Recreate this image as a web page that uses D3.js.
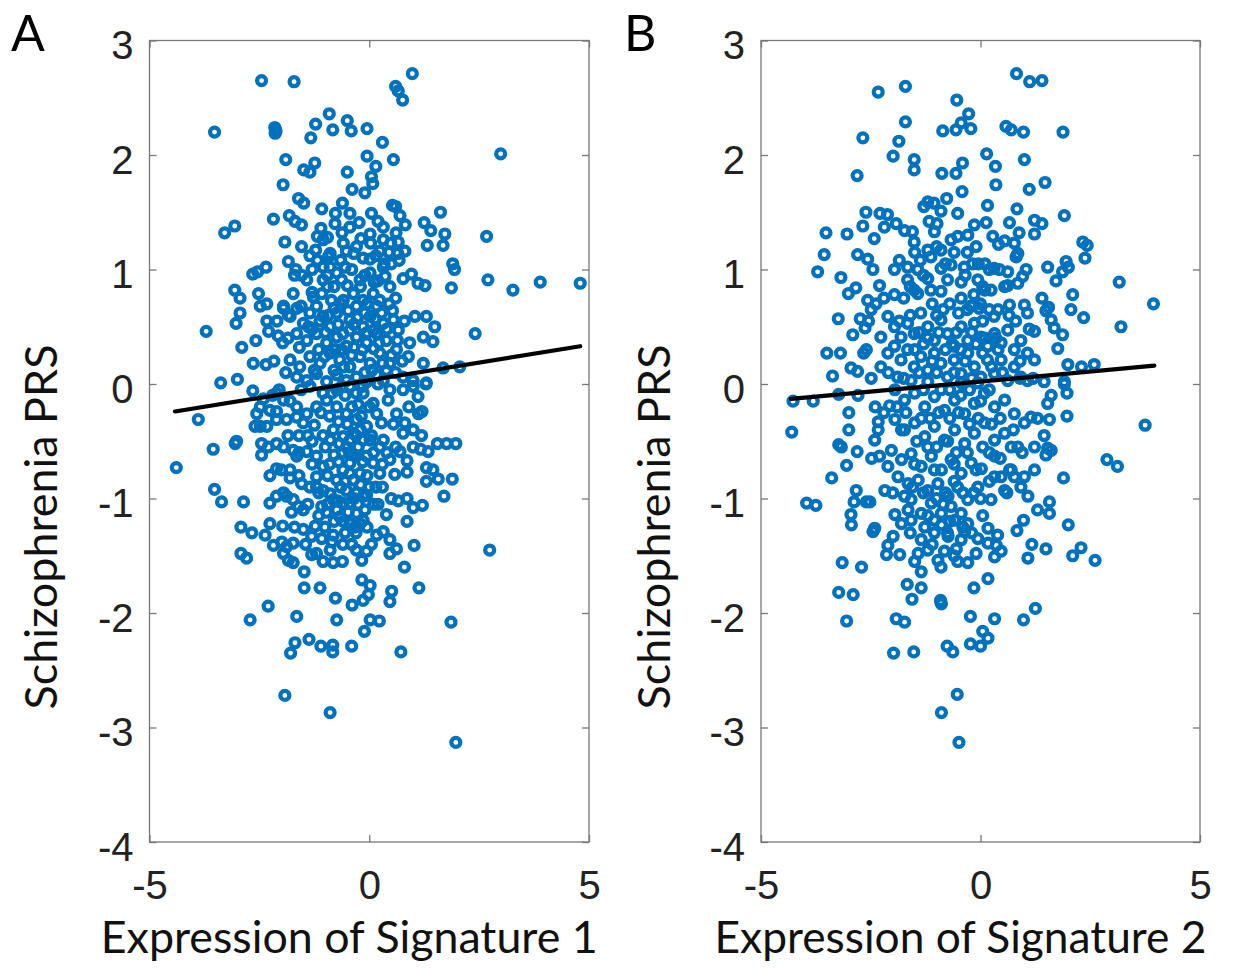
<!DOCTYPE html>
<html><head><meta charset="utf-8">
<script src="https://cdn.jsdelivr.net/npm/d3@7"></script>
<style>body{margin:0;background:#fff}</style>
</head><body>
<svg id="c" width="1238" height="968"></svg>
<script>
const xTicks=[-5,0,5];
const yTicks=[-4,-3,-2,-1,0,1,2,3];
const panelLetters=["A","B"];
const xLabels=["Expression of Signature 1","Expression of Signature 2"];
const yLabel="Schizophrenia PRS";

const pointsA=[
[-2.45,2.65],[-1.71,2.64],[0.98,2.71],[0.60,2.60],[0.66,2.56],[0.76,2.48],[-3.52,2.20],[-2.15,2.24],[-2.12,2.21],[-2.14,2.19],[-2.13,2.22],
[-0.91,2.36],[-1.22,2.27],[-0.50,2.30],[-0.83,2.22],[-0.41,2.21],[-0.05,2.23],[-1.33,2.15],[0.30,2.11],[2.99,2.01],[-1.90,1.96],[-0.05,1.99],[0.55,1.96],[-1.49,1.87],[-1.24,1.93],[-1.35,1.85],[0.15,1.90],[-0.50,1.85],[0.05,1.81],[0.08,1.75],[-1.96,1.74],[-0.39,1.70],[-0.10,1.67],[-1.61,1.62],[-1.49,1.58],[-1.08,1.53],[-0.61,1.58],[0.53,1.56],[0.60,1.55],[1.62,1.50],[-2.18,1.44],[-1.82,1.47],[-1.69,1.42],[-1.54,1.39],[-0.77,1.49],[-0.44,1.49],[0.05,1.49],[0.70,1.47],[0.82,1.39],[1.25,1.41],[1.40,1.34],[-0.23,1.41],[0.20,1.42],[-0.78,1.40],[-3.06,1.38],[-3.29,1.32],[-1.10,1.36],[-1.18,1.29],[-1.05,1.26],[-0.62,1.32],[0.02,1.31],[0.61,1.32],[1.72,1.31],[2.67,1.29],[-1.92,1.24],[-0.59,1.23],[-0.19,1.27],[0.03,1.23],[0.49,1.23],[0.66,1.24],[1.32,1.21],[1.68,1.21],[-1.22,1.17],[-0.89,1.14],[-0.52,1.16],[-0.35,1.14],[0.24,1.16],[0.65,1.14],[0.81,1.16],[-1.18,1.08],[-0.93,1.11],[-0.14,1.10],[0.02,1.09],[0.34,1.05],[0.68,1.08],[1.90,1.05],[1.94,1.00],[-2.35,1.02],[-2.54,0.98],[-2.65,0.96],[-1.84,1.07],[-1.67,1.00],[-1.54,0.95],[-1.30,1.00],[-1.05,0.91],[-0.89,1.02],[-0.55,1.02],[-0.63,0.91],[-0.21,0.91],[0.11,0.89],[0.36,0.94],[0.47,0.85],[0.77,0.92],[0.96,0.96],[1.11,0.88],[1.27,0.86],[1.87,0.84],[2.70,0.91],[3.27,0.82],[3.89,0.89],[4.80,0.88],[-3.06,0.82],[-2.94,0.75],[-2.52,0.79],[-2.48,0.68],[-2.33,0.70],[-2.94,0.62],[-3.03,0.53],[-3.71,0.46],[-2.33,0.55],[-2.29,0.46],[-2.58,0.38],[-2.90,0.32],[-2.07,0.42],[-1.97,0.36],[-1.95,0.68],[-1.84,0.60],[-1.59,0.32],[-2.64,0.18],[-2.35,0.17],[-2.17,0.20],[-3.00,0.04],[-3.38,0.01],[2.41,0.44],[1.30,0.59],[1.49,0.50],[1.04,0.59],[1.23,0.41],[1.45,0.37],[0.92,0.36],[0.89,0.24],[1.23,0.18],[1.68,0.14],[2.06,0.15],[1.30,0.01],[0.53,0.64],[0.55,0.56],[0.66,0.47],[0.47,0.18],[0.64,0.38],
[-1.95,0.66],[-1.80,0.59],[-1.65,0.66],[-1.50,0.53],[-1.35,0.62],[-1.20,0.68],[-1.05,0.59],[-0.89,0.50],[-0.74,0.62],[-0.59,0.73],[-0.44,0.56],[-0.29,0.68],[-0.14,0.50],[0.02,0.59],[0.17,0.68],[0.32,0.53],[-1.65,0.44],[-1.42,0.38],[-1.20,0.44],[-0.97,0.36],[-0.74,0.41],[-0.52,0.33],[-0.29,0.41],[-0.06,0.36],[0.17,0.44],[0.39,0.38],[0.62,0.30],[-1.80,0.21],[-1.58,0.15],[-1.35,0.24],[-1.12,0.18],[-0.89,0.27],[-0.67,0.21],[-0.44,0.15],[-0.21,0.24],[0.02,0.18],[0.24,0.27],[0.39,0.12],[-1.65,0.06],[-1.42,0.03],[-1.20,0.09],[-0.97,0.02],[-0.74,0.08],[-0.52,0.03],[-0.29,0.06],[-0.06,0.02],[0.17,0.08],[0.32,0.03],[0.77,0.06],[1.00,0.03],[-1.27,0.76],[-1.08,0.79],[-0.86,0.73],[-0.36,0.79],[-0.14,0.73],[0.09,0.79],[0.24,0.73],[-1.73,0.79],[-0.44,0.47],[-0.63,0.30],
[-1.42,0.91],[-1.05,1.02],[-0.74,0.97],[0.32,1.02],[0.02,0.97],[-1.54,1.20],[-0.29,1.20],[0.32,1.26],[-0.44,1.37],[0.32,1.37],
[-2.65,-0.06],[-3.89,-0.31],[-4.39,-0.73],[-3.55,-0.57],[-3.05,-0.52],[-3.02,-0.50],[-3.52,-0.92],[-3.36,-1.03],[-2.86,-1.03],[-2.92,-1.25],[-2.67,-1.30],[-2.92,-1.48],[-2.79,-1.52],[-2.30,-1.94],[-2.71,-2.06],[-1.65,-2.03],[-0.74,-2.06],[-1.48,-1.78],[-1.12,-1.78],[-1.48,-1.64],[-0.77,-1.87],[-0.39,-1.93],[-0.17,-1.71],[0.02,-1.76],[-0.02,-1.84],[-0.14,-1.89],[0.02,-2.06],[0.23,-2.07],[-0.11,-2.16],[0.51,-1.81],[0.47,-1.90],[1.13,-1.78],[0.80,-1.60],[1.86,-2.08],[0.72,-2.34],[-1.37,-2.23],[-1.69,-2.26],[-1.79,-2.35],[-1.10,-2.29],[-0.83,-2.28],[-0.83,-2.34],[-0.40,-2.29],[-1.92,-2.72],[-0.89,-2.87],[1.97,-3.13],[2.74,-1.45],[1.02,-1.41],[0.86,-1.20],[0.39,-1.14],[1.70,-0.98],[1.89,-0.83],[1.55,-0.52],[1.76,-0.52],[1.97,-0.52],[0.66,-1.02],[0.86,-1.00],[1.00,-1.08],[1.21,-1.06],[0.58,-0.79],[0.86,-0.77],[1.30,-0.73],[1.45,-0.75],[1.57,-0.83],[1.30,-0.85],[1.17,-0.57],[1.34,-0.59],[0.86,-0.67],[0.70,-0.59],[1.19,-0.45],[1.00,-0.40],[0.81,-0.34],[1.12,-0.26],[1.20,-0.24],[0.47,-0.05],[0.77,-0.05],[1.00,-0.02],[1.11,-0.11],[1.29,0.00],[0.43,-0.14],[0.28,-0.34],[0.32,-0.49],[0.30,-0.90],[0.47,-1.48],[0.62,-1.44],[0.47,-1.36],[0.32,-1.29],[0.17,-1.32],[-0.06,-1.46],[-0.17,-1.54],[-0.29,-1.45],[-0.61,-1.55],[-0.82,-1.56],[-1.05,-1.55],[-1.20,-1.48],[-1.31,-1.49],[-1.31,-1.33],[-1.50,-1.27],[-1.23,-1.24],[-1.01,-1.25],[-0.82,-1.32],[-1.08,-1.35],[-0.89,-1.45],[-1.73,-1.39],[-1.88,-1.42],[-1.95,-1.48],[-1.84,-1.54],[-1.73,-1.56],[-1.99,-1.38],[-2.18,-1.41],[-2.37,-1.32],[-2.26,-1.22],[-1.97,-1.24],[-2.26,-1.04],[-2.11,-0.98],[-1.88,-0.98],[-1.73,-1.01],[-1.61,-1.07],[-1.77,-1.12],[-2.26,-0.80],[-2.11,-0.74],[-1.80,-0.75],[-1.80,-0.82],[-1.54,-0.87],[-1.20,-0.81],[-1.05,-0.72],[-1.20,-0.90],[-1.05,-0.93],[-0.89,-0.96],[-1.08,-1.07],[-0.97,-1.12],[-0.82,-1.01],[-0.74,-1.10],[-0.59,-1.04],[-0.44,-1.04],[-0.29,-1.13],[-0.21,-1.22],[-0.59,-1.20],[-0.44,-1.22],[-0.33,-1.25],
[-0.14,-0.98],[-0.06,-0.97],[-0.36,-0.84],[-0.21,-0.78],[-0.44,-0.69],[-0.29,-0.63],[-0.52,-0.55],[-0.70,-0.68],[-0.89,-0.49],[-1.20,-0.63],[-1.42,-0.59],[-1.65,-0.63],[-1.73,-0.58],[-1.95,-0.55],[-2.11,-0.52],[-2.45,-0.62],[-2.45,-0.52],[-2.48,-0.37],[-2.60,-0.37],[-2.33,-0.37],[-2.11,-0.31],[-1.88,-0.31],[-1.65,-0.29],[-1.50,-0.34],[-2.26,-0.23],[-2.11,-0.24],[-2.48,-0.20],[-2.56,-0.26],[-2.41,-0.13],[-2.11,-0.08],[-1.95,-0.14],[-1.65,-0.20],[-1.42,-0.26],[-1.20,-0.20],[-0.97,-0.14],[-0.74,-0.20],[-0.52,-0.26],[-0.29,-0.31],[-0.06,-0.37],[0.17,-0.26],[0.09,-0.17],[-0.14,-0.08],[-0.44,-0.02],[-0.74,-0.05],[-1.05,-0.08],[-1.35,-0.02],
[-0.59,-0.46],[-0.36,-0.43],[-0.14,-0.49],[-0.44,-0.78],[-0.74,-0.84],[-0.52,-0.93],[-0.29,-0.95],[-0.67,-1.16],[-0.14,-1.19],[-0.06,-0.63],[0.09,-0.69],[0.24,-0.78],[0.02,-0.49],[-0.44,-0.49],
[0.62,-0.26],[0.77,-0.43],[1.00,-0.55],[0.47,-0.66],[0.24,-0.55],
[-1.30,0.48],[-0.80,0.66],[-0.50,0.86],[-0.10,0.62],[0.10,0.47],[-0.35,0.52],[-0.60,0.44],[-1.00,0.45],[-1.15,0.30],[-0.80,0.12],[-0.35,0.32],[0.10,0.31],[0.30,0.18],[-0.15,-0.02],[-0.55,-0.10],[-0.90,-0.28],[-1.25,-0.36],[-0.70,-0.33],[-0.25,-0.18],[0.05,-0.45],[-0.25,-0.55],[-0.60,-0.60],[-1.00,-0.55],[-1.30,-0.50],[-0.80,-0.62],[-0.95,-0.80],[-0.60,-0.75],[-0.20,-0.88],[-0.05,-0.80],[-0.35,-1.00],[-0.55,-1.30],[-0.80,-1.20],[-0.40,-1.40],[-0.10,-1.10],[0.10,-1.05],[-1.40,-1.05],[-1.15,-1.15],[-0.65,-0.90],[-0.45,-0.60],[-0.30,-0.45],[0.10,-0.60],[-1.60,-0.45],[-1.85,-0.45],[-1.60,-0.80],[-1.30,-0.70],[-0.20,0.85],[-0.65,1.08],[0.15,1.12],[-0.95,1.28],[0.50,1.05],[0.45,0.70],[0.60,0.10],[0.20,0.00],[-0.05,0.45],[-1.90,0.10],[-2.05,-0.05],[0.55,-0.35],[0.40,-0.60],[0.50,-1.00],[0.15,-0.90],
[-1.12,0.55],[-0.93,0.60],[-0.71,0.52],[-0.48,0.64],[-0.27,0.58],[-0.05,0.70],[0.13,0.57],[0.28,0.62],[-1.38,0.50],[-1.55,0.68],[-1.25,0.12],[-1.02,0.24],[-0.78,0.30],[-0.58,0.15],[-0.40,0.25],[-0.16,0.30],[0.06,0.12],[0.22,0.36],[-0.30,-0.08],[-0.62,-0.02],[-0.85,-0.08],[-1.10,-0.25],[-0.82,-0.40],[-0.50,-0.35],[-0.18,-0.28],[0.00,-0.20],[-0.38,-0.62],[-0.68,-0.52],[-0.15,-0.68],[0.00,-0.90],[-0.25,-1.05],[-0.48,-1.12],[-0.72,-1.02],[-0.95,-1.05],[-0.60,-1.40],[-0.85,-1.38],[-0.30,-1.30],[-0.05,-1.25],[0.05,-1.40],[-1.15,-0.95],[-1.35,-0.90],[-1.50,-1.10],[-1.70,-1.25],[-1.45,-1.40],[-1.60,-0.60],[-1.40,-0.45],[-2.00,-0.75],[-1.95,-0.95],[-2.30,-0.55],[-2.20,-0.10],[-1.80,-0.15],[-1.55,-0.05],[-1.85,0.40],[-2.10,0.55],[-1.70,0.95],[-1.35,1.12],[-0.40,1.00],[-0.10,0.95],[0.20,0.90],[0.45,1.15],[-0.80,0.85],[-0.95,0.95],[-1.30,0.80],[0.60,0.75],[0.80,0.55],[0.75,0.20],[0.90,-0.20],[0.60,-0.55],[0.30,-0.70],[0.20,-1.05],[-0.20,-0.40],[-0.55,-0.85],[-0.90,-0.70],[-1.05,-0.45],[-0.40,-0.20],[-0.10,0.10],[-0.95,0.85],[-0.65,0.70],[0.40,0.48],[0.50,0.25]
];

const pointsB=[
[0.82,2.71],[1.12,2.64],[1.40,2.65],[-2.33,2.55],[-1.71,2.60],[-0.54,2.48],[-0.27,2.36],[-0.44,2.28],[-0.56,2.22],[-0.22,2.23],[-0.86,2.21],[-1.71,2.29],[-2.68,2.15],[-1.86,2.12],[0.58,2.25],[0.70,2.22],[0.98,2.20],[1.88,2.20],[0.14,2.01],[1.00,1.96],[-1.99,1.99],[-1.51,1.96],[-1.51,1.87],[-2.81,1.82],[-0.88,1.84],[-0.56,1.84],[-0.41,1.93],[0.34,1.90],[0.35,1.74],[1.11,1.70],[1.47,1.76],[-0.42,1.68],[-0.77,1.62],[0.16,1.56],[0.83,1.53],[1.91,1.47],[-1.29,1.55],[-1.20,1.59],[-1.06,1.58],[-0.90,1.51],[-0.52,1.49],[-2.61,1.50],[-2.29,1.49],[-2.12,1.48],[-1.92,1.40],[-2.19,1.37],[-2.68,1.38],[-3.52,1.32],[-3.04,1.31],[-2.42,1.27],[-2.80,1.13],[-2.57,1.09],[-3.56,1.13],[-3.71,0.98],[-3.18,0.93],
[-1.73,1.34],[-1.55,1.33],[-1.51,1.24],[-1.17,1.42],[-1.05,1.33],[-0.99,1.40],[-1.20,1.17],[-0.90,1.17],[-0.67,1.26],[-0.52,1.29],[-0.29,1.30],[-0.14,1.39],[0.13,1.41],[-0.10,1.20],[0.28,1.29],[0.41,1.22],[0.66,1.41],[0.88,1.32],[1.23,1.43],[1.40,1.40],[1.23,1.31],[0.77,1.23],[0.85,1.14],[0.81,1.11],
[2.33,1.24],[2.43,1.21],[2.38,1.10],[1.95,1.07],[2.00,1.02],[1.87,0.98],[1.53,1.02],[1.72,0.90],[2.10,0.78],[2.06,0.65],[2.35,0.58],[1.68,0.49],[1.87,0.43],[1.76,0.31],[1.61,0.56],[1.55,0.67],[1.49,0.64],[3.16,0.89],[3.20,0.50],[3.94,0.70],[1.99,0.17],[2.30,0.15],[2.59,0.17],[1.91,0.02],
[-3.24,0.57],[-2.74,0.57],[-2.63,0.49],[-2.91,0.43],[-3.50,0.27],[-3.19,0.27],[-2.66,0.27],[-3.37,0.07],[-2.95,0.14],[-2.80,0.11],[-3.01,0.79],[-2.84,0.84],[-2.30,0.86],[-1.96,0.78],[-2.57,0.73],[-2.38,0.70],[-2.49,0.65],
[-1.85,1.08],[-1.66,1.02],[-1.96,1.00],[-1.43,1.00],[-1.20,0.92],[-1.37,1.08],[-1.13,1.11],[-0.90,1.01],[-0.67,1.04],[-0.37,1.02],[-0.18,1.05],[0.10,1.05],[0.31,1.01],[0.43,1.00],[0.62,0.98],[1.04,1.00],[0.96,0.94],[0.85,0.88],[0.62,0.86],[-0.06,0.91],[0.24,0.82],[-0.44,0.89],[-0.75,0.91],[-0.90,0.81],[-1.13,0.82],[-1.43,0.79],[-1.66,0.91],[-1.51,0.82],[-0.44,0.75],[-0.22,0.68],[-0.03,0.66],[0.31,0.59],[0.66,0.69],[1.00,0.69],[1.07,0.62],[1.11,0.48],[1.23,0.46],[0.05,0.85],[0.10,0.82],
[-2.11,0.59],[-1.96,0.50],[-1.81,0.41],[-1.66,0.53],[-1.51,0.44],[-1.36,0.62],[-1.20,0.50],[-1.05,0.38],[-0.90,0.56],[-0.75,0.44],[-0.60,0.33],[-0.44,0.50],[-0.29,0.38],[-0.14,0.53],[0.01,0.41],[0.16,0.33],[0.32,0.44],[0.47,0.36],[0.62,0.47],[0.77,0.30],[0.92,0.38],[1.07,0.27],[1.23,0.21],[-2.27,0.41],[-2.11,0.27],[-1.96,0.33],[-1.81,0.21],[-1.66,0.30],[-1.51,0.15],[-1.36,0.24],[-1.20,0.12],[-1.05,0.27],[-0.90,0.18],[-0.75,0.06],[-0.60,0.21],[-0.44,0.09],[-0.29,0.27],[-0.14,0.15],[0.01,0.06],[0.16,0.21],[0.32,0.09],[0.47,0.21],[0.62,0.03],[0.77,0.15],[0.92,0.06],[-2.27,0.15],[-2.49,0.05],[-1.89,0.06],[-1.58,0.03],[-1.20,0.02],[-0.44,0.01],[-0.06,0.01],[1.07,0.03],[1.45,0.02],
[-4.27,-0.15],[-3.81,-0.15],[-4.30,-0.42],[-3.23,-0.09],[-3.00,-0.25],[-2.79,-0.10],[-2.07,-0.19],[3.75,-0.36],[1.97,-0.08],[1.97,-0.28],[1.91,0.00],[1.61,-0.10],[1.53,-0.17],[1.57,-0.31],[1.45,-0.45],[1.23,-0.55],[1.53,-0.56],[1.61,-0.58],[1.49,-0.62],[2.88,-0.66],[3.12,-0.72],[1.89,-0.82],[1.23,-0.75],[1.00,-0.81],[1.08,-0.98],[0.92,-0.90],[0.77,-0.81],[0.66,-0.75],[0.55,-0.93],[0.47,-0.81],[0.32,-0.81],[0.24,-1.01],[-0.06,-0.90],[0.02,-0.74],
[1.57,-1.03],[1.57,-1.13],[2.00,-1.23],[0.98,-1.19],[0.83,-1.28],[1.17,-1.40],[1.49,-1.44],[1.08,-1.52],[2.10,-1.50],[2.29,-1.43],[2.61,-1.54],
[0.17,-1.26],[0.39,-1.32],[0.36,-1.41],[0.47,-1.46],[0.32,-1.51],[0.17,-1.39],[-0.06,-1.35],[-0.10,-1.48],[-0.36,-1.29],[-0.52,-1.55],[-0.29,-1.56],[-0.55,-1.44],[-0.82,-1.46],[-0.97,-1.54],[-0.74,-1.33],[-0.89,-1.23],[-1.05,-1.19],[-1.35,-1.36],[-1.42,-1.48],[-1.50,-1.55],[-1.35,-1.64],[-1.84,-1.49],[-2.14,-1.49],[-2.11,-1.41],[-1.99,-1.33],[-1.80,-1.22],[-1.95,-1.14],[-1.65,-1.10],[-1.58,-1.01],[-1.73,-0.98],
[-2.45,-1.29],[-2.41,-1.26],[-2.94,-1.23],[-2.95,-1.14],[-2.88,-1.03],[-2.83,-0.93],[-2.60,-1.03],[-2.52,-1.03],[-3.96,-1.04],[-3.75,-1.06],[-3.39,-0.82],[-3.05,-0.71],[-3.17,-0.55],[-3.23,-0.53],[-2.81,-0.59],[-2.48,-0.65],[-2.30,-0.63],[-2.33,-0.33],
[-3.15,-1.56],[-2.71,-1.60],[-3.23,-1.82],[-2.90,-1.84],[-3.05,-2.07],[-1.92,-2.05],[-1.73,-2.08],[-1.98,-2.35],[-1.52,-2.34],[-1.67,-1.75],[-1.56,-1.88],[-1.35,-1.78],[-0.91,-1.89],[-0.89,-1.92],[-0.90,-1.91],[-0.15,-1.78],[0.17,-1.70],[-0.23,-2.03],[0.32,-2.05],[0.98,-2.06],[1.25,-1.96],[-0.76,-2.29],[-0.63,-2.34],[-0.23,-2.27],[0.00,-2.29],[0.05,-2.16],[0.17,-2.22],[-0.53,-2.71],[-0.89,-2.87],[-0.49,-3.13],
[-1.95,-0.05],[-1.73,-0.14],[-1.50,-0.08],[-1.27,-0.20],[-1.05,-0.11],[-0.82,-0.23],[-0.59,-0.14],[-0.36,-0.26],[-0.14,-0.17],[0.09,-0.08],[0.32,-0.20],[0.55,-0.14],[0.77,-0.26],[1.00,-0.34],[1.15,-0.29],[-1.95,-0.31],[-1.73,-0.40],[-1.50,-0.34],[-1.27,-0.46],[-1.05,-0.37],[-0.82,-0.49],[-0.59,-0.40],[-0.36,-0.52],[-0.14,-0.43],[0.09,-0.34],[0.32,-0.49],[0.55,-0.43],[0.70,-0.55],[-2.03,-0.58],[-1.80,-0.66],[-1.58,-0.61],[-1.35,-0.72],[-1.12,-0.63],[-0.89,-0.75],[-0.67,-0.66],[-0.44,-0.78],[-0.21,-0.69],[0.32,-0.63],[-2.11,-0.72],[-1.88,-0.81],[-1.65,-0.87],[-1.42,-0.84],[-1.20,-0.93],[-0.97,-0.87],[-0.74,-0.98],[-0.52,-0.90],[-0.29,-1.01],[-0.44,-1.13],[-0.67,-1.07],[-0.89,-1.13],[-1.12,-1.04],[-1.35,-1.13],[-1.58,-1.19],[-1.27,-1.25],[-1.05,-1.30],[-0.44,-1.36],[-0.29,-1.22],[-0.59,-1.19],[-2.33,-0.40],[-2.41,-0.49],[-2.18,-0.93],
[-1.30,0.35],[-0.85,0.65],[-0.50,0.62],[-0.15,0.78],[0.20,0.65],[-0.65,0.35],[-0.35,0.20],[0.05,0.27],[0.40,0.30],[-1.00,0.10],[-1.60,0.60],[-1.75,0.05],[-0.70,-0.05],[-0.25,-0.05],[0.20,-0.05],[-1.15,-0.30],[-0.70,-0.30],[-0.25,-0.35],[0.20,-0.60],[0.45,-0.65],[-0.55,-0.60],[-1.00,-0.55],[-1.45,-0.50],[-1.70,-0.25],[-0.80,-0.95],[-1.00,-1.00],[-0.60,-0.85],[-0.15,-0.95],[0.05,-1.15],[-0.20,-1.30],[-0.70,-1.20],[-1.20,-1.45],[-0.90,-1.60],[-1.55,-0.90],[-2.00,-0.95],[-2.20,-0.25],[-1.50,0.30],[0.65,0.60],[0.90,0.20],[1.20,0.05],[0.85,-0.55],[0.60,-0.95],[1.30,-1.10],[-0.05,1.05],[-0.60,1.15],[-1.50,1.15],[0.55,1.25],[-2.45,1.00],[-2.60,0.30],[-3.00,-0.40],[-1.10,0.70],[-1.75,0.75],[0.05,0.55],[1.40,0.75],[1.30,-0.30],
[-1.20,0.40],[-0.95,0.45],[-0.55,0.45],[-0.20,0.45],[0.10,0.40],[0.35,0.40],[-1.40,0.45],[-1.00,0.60],[-0.70,0.70],[-0.30,0.65],[0.00,0.70],[0.40,0.65],[-0.80,0.30],[-0.45,0.30],[-0.10,0.35],[0.25,0.15],[-1.10,0.20],[-1.40,0.10],[-0.60,0.10],[-0.20,0.05],[0.50,0.10],[-1.30,-0.05],[-0.90,-0.05],[-0.45,-0.10],[0.00,-0.15],[0.45,-0.30],[-1.35,-0.30],[-0.95,-0.25],[-0.50,-0.25],[-0.05,-0.30],[0.25,-0.35],[-1.20,-0.55],[-0.75,-0.50],[-0.30,-0.60],[0.05,-0.55],[-1.50,-0.70],[-1.05,-0.75],[-0.60,-0.70],[-0.10,-0.75],[0.20,-0.85],[-1.30,-0.95],[-0.85,-1.05],[-0.40,-0.95],[0.00,-1.00],[-1.20,-1.15],[-0.75,-1.30],[-0.40,-1.25],[-1.60,-1.30],[-1.10,-1.40],[-0.60,-1.50],[-1.80,-0.40],[-1.90,-0.20],[-2.10,0.10],[-1.85,0.55],[-1.60,0.85],[-1.30,0.95],[-0.80,1.05],[-0.35,0.95],[0.20,1.00],[0.55,0.85],[0.80,0.55],[0.90,0.05],[0.75,-0.40],[0.70,-0.75],[0.95,-0.60],[-2.40,-0.20],[-2.55,0.55],[-2.20,0.75],[-1.00,1.20],[-0.30,1.15]
];

const fitA=[[-4.42,-0.24],[4.80,0.33]];
const fitB=[[-4.32,-0.13],[3.96,0.16]];

const svg=d3.select("#c");
const TOP=40.5, BOTTOM=842;
const panels=[
  {pts:pointsA, fit:fitA, left:149.5, right:589, letter:panelLetters[0], letterX:11, ylabX:57, xlab:xLabels[0], xlabW:497},
  {pts:pointsB, fit:fitB, left:761, right:1200, letter:panelLetters[1], letterX:624, ylabX:670, xlab:xLabels[1], xlabW:492}
];
const tickFont='"Liberation Sans", Arial, sans-serif';
const labFont='Lato, "Open Sans", sans-serif';
const fmt=d=>String(d);

function fitText(sel, target){
  const fs=parseFloat(sel.attr("font-size"));
  const len=sel.node().getComputedTextLength();
  sel.attr("font-size", fs*target/len);
}

panels.forEach(p=>{
  const x=d3.scaleLinear().domain([-5,5]).range([p.left,p.right]);
  const y=d3.scaleLinear().domain([-4,3]).range([BOTTOM,TOP]);
  const g=svg.append("g");

  const ax=[
    {a:d3.axisLeft(y).tickValues(yTicks).tickFormat(fmt), t:`translate(${p.left},0)`, kind:"y"},
    {a:d3.axisRight(y).tickValues(yTicks).tickFormat(""), t:`translate(${p.right},0)`},
    {a:d3.axisBottom(x).tickValues(xTicks).tickFormat(fmt), t:`translate(0,${BOTTOM})`, kind:"x"},
    {a:d3.axisTop(x).tickValues(xTicks).tickFormat(""), t:`translate(0,${TOP})`}
  ];
  ax.forEach(o=>{
    o.a.tickSizeInner(-7).tickSizeOuter(0).tickPadding(o.kind==="x"?29:16);
    const ag=g.append("g").attr("transform",o.t).call(o.a);
    ag.select(".domain").remove();
    ag.selectAll(".tick line").attr("stroke","#777").attr("stroke-width",1.3);
    ag.selectAll("text").attr("font-family",tickFont).attr("font-size",40).attr("fill","#222");
    if(o.kind==="y") ag.selectAll("text").attr("dy","0.45em");
  });
  g.append("rect").attr("x",p.left).attr("y",TOP).attr("width",p.right-p.left).attr("height",BOTTOM-TOP)
    .attr("fill","none").attr("stroke","#777").attr("stroke-width",1.3);

  g.append("g").selectAll("circle").data(p.pts).join("circle")
    .attr("cx",d=>x(d[0])).attr("cy",d=>y(d[1])).attr("r",4.5)
    .attr("fill","none").attr("stroke","#0072BD").attr("stroke-width",4.2);

  g.append("path").datum(p.fit)
    .attr("d",d3.line().x(d=>x(d[0])).y(d=>y(d[1])))
    .attr("stroke","#000").attr("stroke-width",4.2).attr("fill","none").attr("stroke-linecap","round");

  const xl=svg.append("text").attr("x",(p.left+p.right)/2 - 20).attr("y",953)
    .attr("text-anchor","middle").attr("font-family",labFont).attr("font-size",40).attr("fill","#111").text(p.xlab);
  fitText(xl,p.xlabW);
  const yl=svg.append("text").attr("transform",`translate(${p.ylabX},527) rotate(-90)`)
    .attr("text-anchor","middle").attr("font-family",labFont).attr("font-size",40).attr("fill","#111").text(yLabel);
  fitText(yl,365);
  svg.append("text").attr("x",p.letterX).attr("y",51).attr("font-family",labFont).attr("font-size",50).attr("fill","#000").text(p.letter);
});
</script>
</body></html>
